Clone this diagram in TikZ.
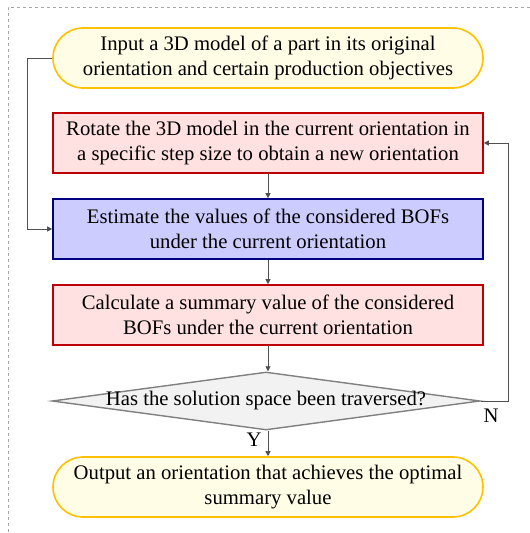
\documentclass[tikz,border=0pt]{standalone}
\usepackage{fontspec}
\setmainfont{Liberation Serif}
\usetikzlibrary{shapes.geometric,arrows.meta}
\definecolor{pillfill}{HTML}{FFFDE6}
\definecolor{pilldraw}{HTML}{FFC000}
\definecolor{redfill}{HTML}{FFE1E1}
\definecolor{reddraw}{HTML}{C00000}
\definecolor{bluefill}{HTML}{CCCCFF}
\definecolor{bluedraw}{HTML}{000080}
\definecolor{diafill}{HTML}{F2F2F2}
\definecolor{diadraw}{HTML}{808080}
\definecolor{lin}{HTML}{505050}
\tikzset{
  txt/.style={font=\fontsize{20.7}{25}\selectfont, align=center},
  pill/.style={txt, draw=pilldraw, fill=pillfill, line width=1.6pt, rounded corners=30pt, minimum width=430pt, minimum height=60pt, inner sep=0pt},
  redbox/.style={txt, draw=reddraw, fill=redfill, line width=1.6pt, minimum width=430pt, minimum height=60pt, inner sep=0pt},
  bluebox/.style={txt, draw=bluedraw, fill=bluefill, line width=1.6pt, minimum width=430pt, minimum height=60pt, inner sep=0pt},
  dia/.style={txt, draw=diadraw, fill=diafill, line width=1.4pt, diamond, aspect=7.4, minimum width=428pt, minimum height=58pt, inner sep=0pt},
  conn/.style={draw=lin, line width=0.8pt, -{Triangle[length=5pt,width=5pt]}},
  lbl/.style={font=\fontsize{20.7}{22}\selectfont}
}
\begin{document}
\begin{tikzpicture}[x=1pt,y=-1pt]
\useasboundingbox (0,0) rectangle (530,533);
\draw[gray!70, dashed, line width=0.6pt] (530,7) -- (8,7) -- (8,533);
\node[pill] (in) at (268,58) {Input a 3D model of a part in its original\\orientation and certain production objectives};
\node[redbox] (rot) at (268,143) {Rotate the 3D model in the current orientation in\\a specific step size to obtain a new orientation};
\node[bluebox] (est) at (268,229) {Estimate the values of the considered BOFs\\under the current orientation};
\node[redbox] (calc) at (268,315) {Calculate a summary value of the considered\\BOFs under the current orientation};
\node[dia] (d) at (266,401) {\makebox[0pt]{Has the solution space been traversed?}};
\node[pill] (out) at (268,487) {Output an orientation that achieves the optimal\\summary value};
\coordinate (l1) at (27,58);
\coordinate (l2) at (27,229);
\coordinate (r1) at (508,401);
\coordinate (r2) at (508,143);
\draw[conn] (rot.south) -- (est.north);
\draw[conn] (est.south) -- (calc.north);
\draw[conn] (calc.south) -- (calc.south |- d.north);
\draw[conn] (out.north |- d.south) -- (out.north);
\draw[conn] (in.west) -- (l1) -- (l2) -- (est.west);
\draw[conn] (d.east) -- (r1) -- (r2) -- (rot.east);
\node[lbl] (Y) at (254,440) {Y};
\node[lbl] (N) at (491,416) {N};
\end{tikzpicture}
\end{document}
